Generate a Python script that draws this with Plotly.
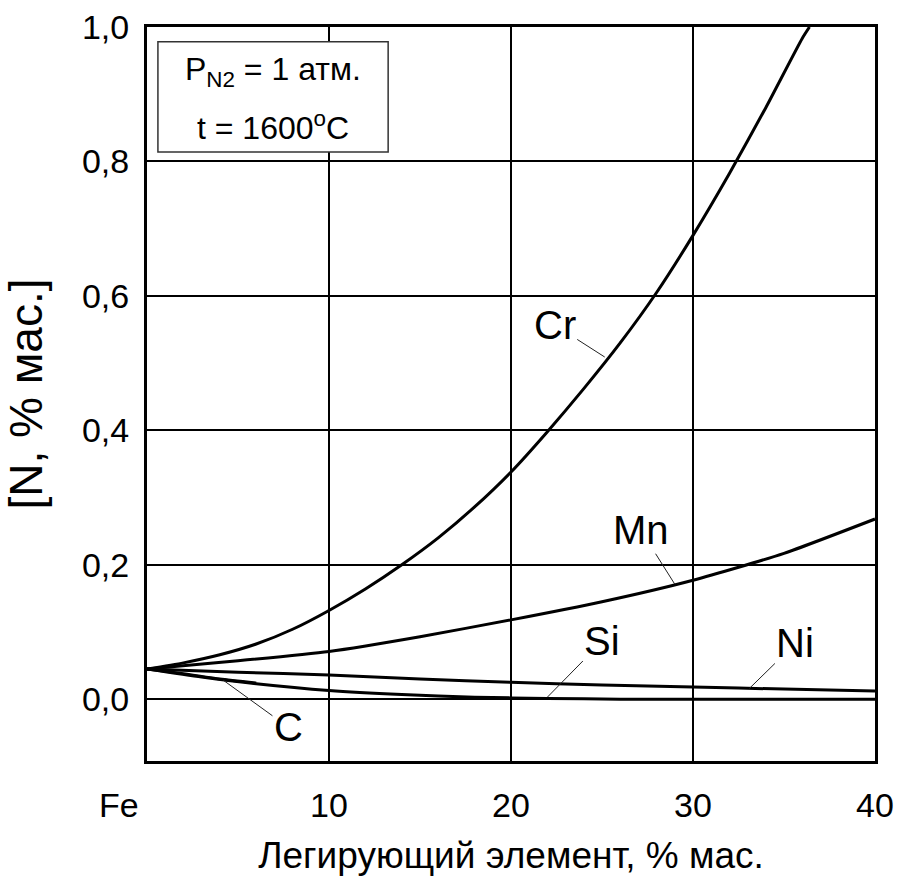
import plotly.graph_objects as go

# Data (x: alloying element, % mass; y: [N], % mass)
cr_x = [0, 2, 4, 6, 8, 10, 12, 14, 16, 18, 20, 22, 24, 26, 28, 30, 32, 34, 36, 36.4]
cr_y = [0.045, 0.054, 0.066, 0.082, 0.104, 0.132, 0.164, 0.200, 0.240, 0.286, 0.338,
        0.398, 0.462, 0.530, 0.605, 0.690, 0.782, 0.880, 0.983, 1.0]
mn_x = [0, 5, 10, 15, 20, 25, 30, 35, 40]
mn_y = [0.045, 0.057, 0.071, 0.093, 0.118, 0.145, 0.177, 0.217, 0.268]
ni_x = [0, 5, 10, 15, 20, 25, 30, 35, 40]
ni_y = [0.045, 0.040, 0.036, 0.030, 0.025, 0.021, 0.018, 0.015, 0.012]
si_x = [0, 3, 6, 10, 14, 18, 22, 26, 30, 35, 40]
si_y = [0.045, 0.033, 0.023, 0.013, 0.007, 0.003, 0.001, 0.0, 0.0, 0.0, 0.0]
c_x = [0, 2, 4, 6]
c_y = [0.045, 0.038, 0.030, 0.024]

x_ticks = [10, 20, 30, 40]
x_labels = ["10", "20", "30", "40"]
y_ticks = [0.0, 0.2, 0.4, 0.6, 0.8, 1.0]
y_labels = ["0,0", "0,2", "0,4", "0,6", "0,8", "1,0"]

FONT = "Liberation Sans, Arial, sans-serif"
X_MIN, X_MAX = 0, 40

fig = go.Figure()
for xs, ys in [(cr_x, cr_y), (mn_x, mn_y), (ni_x, ni_y), (si_x, si_y), (c_x, c_y)]:
    fig.add_trace(go.Scatter(x=xs, y=ys, mode="lines", line=dict(color="black", width=3),
                             line_shape="spline", line_smoothing=0.6,
                             showlegend=False, hoverinfo="skip"))

fig.update_layout(
    width=900, height=881,
    margin=dict(l=147, r=25, t=27, b=120),
    plot_bgcolor="white", paper_bgcolor="white",
    font=dict(family=FONT, size=34, color="black"),
    xaxis=dict(range=[X_MIN, X_MAX], tickvals=x_ticks, ticktext=x_labels,
               tickfont=dict(size=34),
               showgrid=True, gridcolor="black", gridwidth=2,
               showline=True, mirror=True, linecolor="black", linewidth=3,
               zeroline=False, ticks="", ticklabelstandoff=12, automargin=False,
               title=dict(text="Легирующий элемент, % мас.", standoff=20,
                          font=dict(size=37))),
    yaxis=dict(range=[-0.092, 1.0], tickvals=y_ticks, ticktext=y_labels,
               tickfont=dict(size=34),
               showgrid=True, gridcolor="black", gridwidth=2,
               showline=True, mirror=True, linecolor="black", linewidth=3,
               zeroline=False, ticks="", ticklabelstandoff=8, automargin=False,
               title=dict(text="[N, % мас.]", standoff=26, font=dict(size=46))),
)

# Fe label at the origin, left of the frame
fig.add_annotation(x=-1.55 / (X_MAX - X_MIN), y=0, xref="paper", yref="paper",
                   yanchor="middle", xanchor="center", yshift=-44,
                   text="Fe", showarrow=False, font=dict(size=34))

# Condition box
fig.add_shape(type="rect", xref="x", yref="y", x0=0.6, x1=13.25, y0=0.814, y1=0.978,
              line=dict(color="#333", width=1.5), fillcolor="white", layer="above")
fig.add_annotation(x=6.9, y=0.934, xref="x", yref="y",
                   text="P<sub>N2</sub> = 1 атм.", showarrow=False, font=dict(size=32))
fig.add_annotation(x=6.9, y=0.853, xref="x", yref="y",
                   text="t = 1600<sup>o</sup>C", showarrow=False, font=dict(size=32))

# Curve labels with leader lines
labels = [("Cr", 25.15, 0.509, -50, -32),
          ("Mn", 29.0, 0.171, -34, -54),
          ("Si", 22.0, 0.003, 55, -56),
          ("Ni", 33.1, 0.016, 46, -45),
          ("C", 4.2, 0.028, 65, 47)]
for txt, x, y, ax, ay in labels:
    fig.add_annotation(x=x, y=y, xref="x", yref="y", text=txt, showarrow=True,
                       arrowhead=0, arrowwidth=1, arrowcolor="#222", ax=ax, ay=ay,
                       font=dict(size=40))

fig.write_html("out.html")
